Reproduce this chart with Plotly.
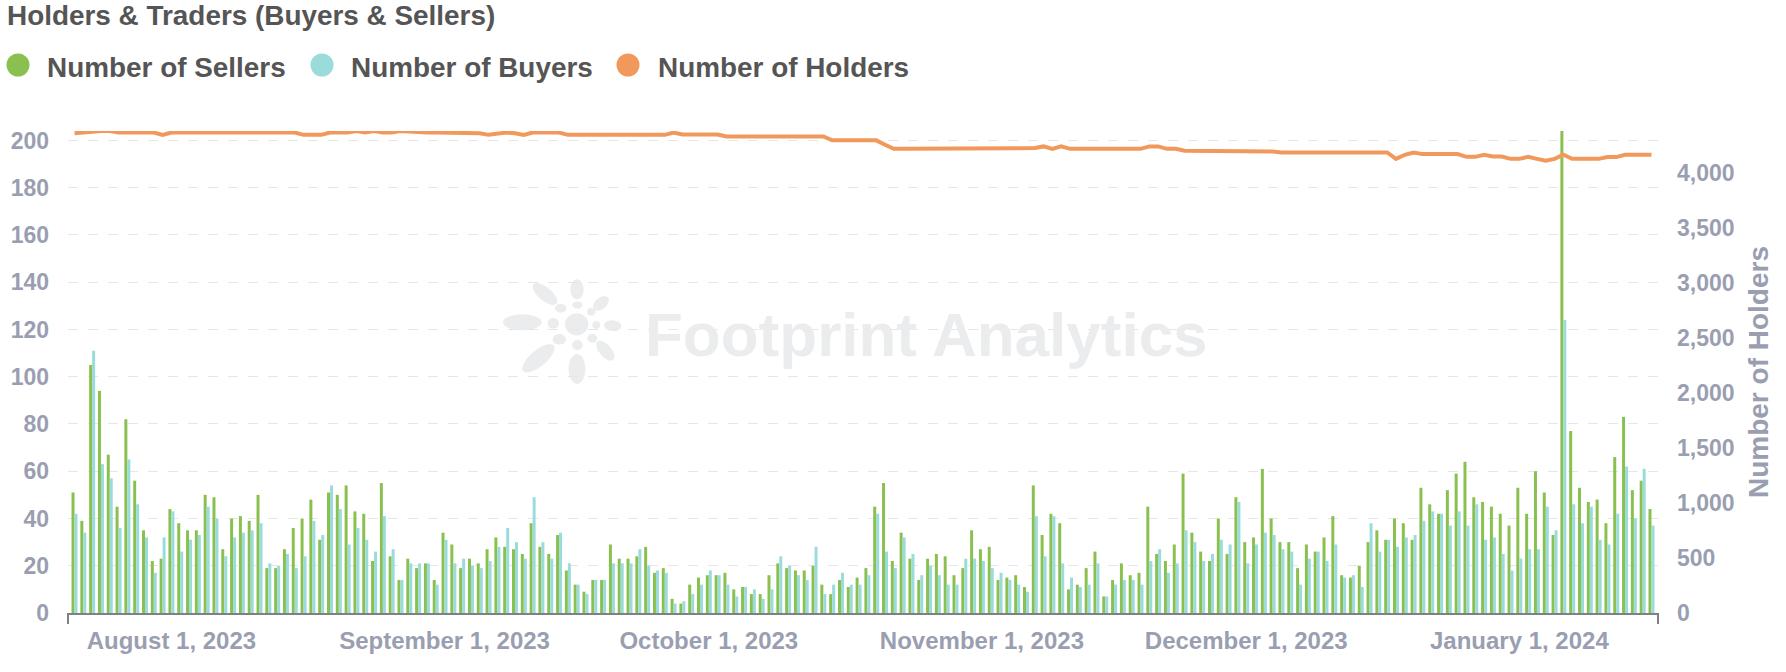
import numpy as np
import pandas as pd
import plotly.graph_objects as go

WIDTH, HEIGHT = 1786, 672
# plot area in page pixels
LEFT, RIGHT, TOP, BOTTOM = 68, 1658, 131, 613

dates = pd.date_range('2023-07-21', periods=180)

sellers = [
    51, 39, 105, 94, 67, 45, 82, 56, 35, 22,
    23, 44, 38, 35, 35, 50, 49, 27, 40, 41,
    39, 50, 19, 19, 27, 36, 40, 48, 31, 51,
    50, 54, 43, 42, 22, 55, 24, 14, 23, 19,
    21, 14, 34, 29, 19, 23, 21, 27, 32, 28,
    27, 25, 38, 28, 25, 33, 18, 12, 9, 14,
    14, 29, 23, 23, 24, 28, 17, 19, 6, 4,
    12, 15, 16, 16, 17, 10, 11, 8, 8, 16,
    21, 19, 18, 18, 20, 12, 8, 14, 11, 15,
    19, 45, 55, 22, 34, 23, 14, 23, 25, 24,
    16, 19, 35, 27, 28, 14, 15, 16, 11, 54,
    33, 42, 38, 10, 12, 19, 26, 7, 14, 21,
    16, 17, 45, 25, 22, 29, 59, 34, 26, 22,
    40, 25, 49, 30, 32, 61, 40, 30, 30, 19,
    29, 26, 32, 41, 16, 15, 20, 30, 35, 31,
    40, 38, 31, 53, 46, 42, 52, 59, 64, 49,
    47, 45, 42, 37, 53, 42, 60, 51, 33, 204,
    77, 53, 47, 48, 38, 66, 83, 52, 56, 44,
]

buyers = [
    42, 34, 111, 63, 57, 36, 65, 46, 32, 17,
    32, 43, 26, 31, 33, 45, 40, 24, 32, 34,
    35, 38, 21, 20, 25, 19, 24, 39, 33, 54,
    44, 29, 36, 31, 26, 41, 27, 14, 21, 21,
    21, 12, 31, 21, 23, 20, 19, 22, 28, 36,
    30, 23, 49, 30, 23, 34, 21, 12, 8, 14,
    14, 21, 21, 21, 27, 20, 18, 17, 4, 5,
    8, 12, 18, 16, 12, 7, 11, 10, 6, 10,
    24, 20, 16, 14, 28, 8, 12, 17, 12, 12,
    16, 42, 26, 19, 32, 25, 16, 20, 16, 12,
    12, 23, 23, 22, 19, 17, 14, 12, 9, 41,
    24, 41, 21, 15, 11, 12, 21, 7, 12, 14,
    14, 12, 22, 27, 17, 21, 35, 30, 22, 25,
    31, 29, 47, 21, 29, 34, 33, 27, 26, 12,
    23, 26, 22, 29, 15, 16, 11, 38, 26, 31,
    28, 32, 33, 39, 43, 42, 37, 43, 37, 46,
    31, 32, 25, 18, 23, 27, 27, 45, 35, 124,
    46, 38, 45, 31, 29, 42, 62, 40, 61, 37,
]

holders = [
    4360, 4366, 4380, 4380, 4380, 4366, 4366, 4366, 4366, 4366,
    4345, 4366, 4366, 4366, 4366, 4366, 4366, 4366, 4366, 4366,
    4366, 4366, 4366, 4366, 4366, 4366, 4345, 4345, 4345, 4366,
    4366, 4366, 4380, 4366, 4380, 4366, 4366, 4380, 4375, 4366,
    4366, 4366, 4366, 4366, 4366, 4366, 4360, 4345, 4360, 4366,
    4360, 4345, 4366, 4366, 4366, 4366, 4345, 4345, 4345, 4345,
    4345, 4345, 4345, 4345, 4345, 4345, 4345, 4345, 4366, 4348,
    4348, 4348, 4348, 4348, 4330, 4330, 4330, 4330, 4330, 4330,
    4330, 4330, 4330, 4330, 4330, 4330, 4295, 4295, 4295, 4295,
    4295, 4295, 4255, 4218, 4218, 4218, 4218, 4218, 4218, 4218,
    4218, 4218, 4218, 4218, 4218, 4218, 4218, 4218, 4218, 4225,
    4240, 4218, 4240, 4218, 4218, 4218, 4218, 4218, 4218, 4218,
    4218, 4218, 4240, 4240, 4218, 4218, 4200, 4200, 4200, 4200,
    4200, 4200, 4200, 4200, 4200, 4200, 4193, 4185, 4185, 4185,
    4185, 4185, 4185, 4185, 4185, 4185, 4185, 4185, 4185, 4185,
    4127, 4164, 4185, 4170, 4170, 4170, 4170, 4170, 4145, 4145,
    4164, 4148, 4148, 4127, 4127, 4145, 4127, 4109, 4127, 4164,
    4127, 4127, 4127, 4127, 4143, 4143, 4164, 4164, 4164, 4164,
]

series_names = ['Number of Sellers', 'Number of Buyers', 'Number of Holders']
series_colors = ['#8ac04f', '#9adcdb', '#f0995a']

TEXT = '#555555'
TICK = '#9a9eb1'
FONT = 'Liberation Sans'


def px(x):
    return (x - LEFT) / (RIGHT - LEFT)


def py(y):
    return (BOTTOM - y) / (BOTTOM - TOP)


def ellipse_path(cx, cy, a, b, angle):
    # logo petals, given in page pixels
    t = np.linspace(0, 2 * np.pi, 37)
    rad = np.radians(angle)
    xs = cx + a * np.cos(t) * np.cos(rad) - b * np.sin(t) * np.sin(rad)
    ys = cy + a * np.cos(t) * np.sin(rad) + b * np.sin(t) * np.cos(rad)
    pts = [f'{px(x):.5f},{py(y):.5f}' for x, y in zip(xs, ys)]
    return 'M' + ' L'.join(pts) + ' Z'


fig = go.Figure()
fig.add_trace(go.Bar(x=dates, y=sellers, name=series_names[0], marker_color=series_colors[0], marker_line_width=0))
fig.add_trace(go.Bar(x=dates, y=buyers, name=series_names[1], marker_color=series_colors[1], marker_line_width=0))
fig.add_trace(go.Scatter(
    x=dates, y=holders, name=series_names[2], yaxis='y2', mode='lines',
    line=dict(color=series_colors[2], width=4), cliponaxis=False,
))

# footprint logo watermark, zoomed crop coordinates / 3 + crop origin
petals = [
    (97, 157, 58, 24, 0), (261, 58, 30, 20, 90), (165, 72, 45, 20, 40),
    (333, 100, 27, 17, -40), (368, 167, 26, 16, 5), (346, 242, 36, 18, 50),
    (261, 297, 45, 25, 90), (145, 265, 60, 24, -40), (260, 163, 35, 33, 0),
    (190, 160, 17, 16, 0), (212, 115, 17, 13, 0), (262, 105, 15, 11, 0),
    (304, 125, 13, 12, 0), (319, 165, 12, 12, 0), (307, 205, 15, 13, 0),
    (262, 225, 16, 15, 0), (208, 208, 20, 16, 0),
]
shapes = []
for cx, cy, a, b, ang in petals:
    shapes.append(dict(
        type='path', xref='paper', yref='paper', layer='below', line_width=0,
        fillcolor='#ebecee',
        path=ellipse_path(490 + cx / 3, 270 + cy / 3, a / 3, b / 3, ang),
    ))

# end ticks of the x axis
for edge in (LEFT, RIGHT):
    shapes.append(dict(
        type='line', xref='paper', yref='paper', x0=px(edge), x1=px(edge),
        y0=py(BOTTOM), y1=py(BOTTOM + 11), line=dict(color='#7f7f85', width=2),
    ))

# legend with round swatches
annotations = []
for name, color, cx, tx in zip(series_names, series_colors, (18, 322, 628), (45, 349, 656)):
    shapes.append(dict(
        type='circle', xref='paper', yref='paper', fillcolor=color, line_width=0,
        x0=px(cx - 11.5), x1=px(cx + 11.5), y0=py(65 + 11.5), y1=py(65 - 11.5),
    ))
    annotations.append(dict(
        text=f'<b>{name}</b>', xref='paper', yref='paper', x=px(tx), y=py(67),
        xanchor='left', yanchor='middle', showarrow=False,
        font=dict(family=FONT, size=27.9, color=TEXT),
    ))

annotations.append(dict(
    text='<b>Footprint Analytics</b>', xref='paper', yref='paper', x=px(643), y=py(334),
    xanchor='left', yanchor='middle', showarrow=False,
    font=dict(family=FONT, size=62, color='#ebecee'),
))

fig.update_layout(
    width=WIDTH, height=HEIGHT,
    margin=dict(l=LEFT, r=WIDTH - RIGHT, t=TOP, b=HEIGHT - BOTTOM, pad=0),
    paper_bgcolor='white', plot_bgcolor='white',
    barmode='group', bargap=0.32, bargroupgap=0,
    showlegend=False,
    font=dict(family=FONT, color=TICK),
    title=dict(
        text='<b>Holders & Traders (Buyers & Sellers)</b>',
        x=7 / WIDTH, xref='container', xanchor='left',
        y=1 - 15 / HEIGHT, yref='container', yanchor='middle',
        font=dict(family=FONT, size=27.9, color=TEXT),
    ),
    xaxis=dict(
        type='date',
        range=['2023-07-20 06:15', '2024-01-16 17:45'],
        tick0='2023-08-01', dtick='M1', tickformat='%B %-d, %Y',
        ticks='', showgrid=False, showline=True, linecolor='#7f7f85', linewidth=2,
        tickfont=dict(family=FONT, size=24, color=TICK),
        ticklabelstandoff=5, tickprefix='<b>', ticksuffix='</b>',
    ),
    yaxis=dict(
        range=[0, 204], tick0=0, dtick=20, showline=False, zeroline=False,
        gridcolor='#e6e6e6', griddash='10px,10px', gridwidth=1,
        ticks='', ticklabelstandoff=18, tickprefix='<b>', ticksuffix='</b>',
        tickfont=dict(family=FONT, size=23, color=TICK),
    ),
    yaxis2=dict(
        range=[0, 4380], tick0=0, dtick=500, overlaying='y', side='right',
        showgrid=False, zeroline=False, showline=False, tickformat=',d',
        ticks='', ticklabelstandoff=18, tickprefix='<b>', ticksuffix='</b>',
        tickfont=dict(family=FONT, size=23, color=TICK),
        title=dict(text='<b>Number of Holders</b>', standoff=14,
                   font=dict(family=FONT, size=28, color=TICK)),
    ),
    shapes=shapes,
    annotations=annotations,
)

# drop the default page margin so the plot sits at the page origin
fig.write_html("out.html", config=dict(displayModeBar=False),
               post_script="document.body.style.margin='0';")
